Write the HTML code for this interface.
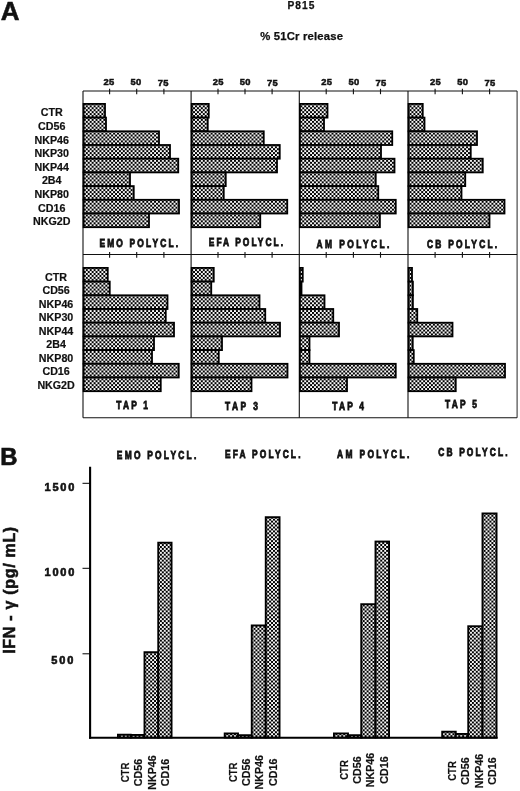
<!DOCTYPE html>
<html><head><meta charset="utf-8"><title>Figure</title>
<style>
html,body{margin:0;padding:0;background:#fff;}
svg{display:block;}
text{font-family:"Liberation Sans",sans-serif;font-weight:bold;fill:#111;}
.t{font-size:10.7px;stroke:#111;stroke-width:0.2px;}
.m{font-size:10.5px;}
</style></head><body>
<svg width="520" height="791" viewBox="0 0 520 791">
<defs><pattern id="ck" width="3.9" height="3.9" patternUnits="userSpaceOnUse"><rect width="3.9" height="3.9" fill="#fff"/><rect x="0" y="0" width="2.03" height="2.03" fill="#000"/><rect x="1.95" y="1.95" width="2.03" height="2.03" fill="#000"/></pattern></defs>
<rect width="520" height="791" fill="#fff"/>
<text transform="translate(0.8,19.6) scale(1.04,1)" font-size="25" stroke="#111" stroke-width="0.5">A</text>
<text x="287.5" y="8.8" font-size="10.2" stroke="#111" stroke-width="0.25" textLength="27" lengthAdjust="spacing">P815</text>
<text x="260.2" y="39.9" font-size="11.3" stroke="#111" stroke-width="0.25" textLength="82.8" lengthAdjust="spacing">% 51Cr release</text>
<line x1="83.0" y1="91.0" x2="83.0" y2="417.8" stroke="#111" stroke-width="1.1"/>
<line x1="191.1" y1="91.0" x2="191.1" y2="417.8" stroke="#111" stroke-width="1.1"/>
<line x1="299.3" y1="91.0" x2="299.3" y2="417.8" stroke="#111" stroke-width="1.1"/>
<line x1="408.0" y1="91.0" x2="408.0" y2="417.8" stroke="#111" stroke-width="1.1"/>
<line x1="517.1" y1="91.0" x2="517.1" y2="417.8" stroke="#3a3a3a" stroke-width="1.1"/>
<line x1="83.0" y1="91.0" x2="517.1" y2="91.0" stroke="#111" stroke-width="1.1"/>
<line x1="83.0" y1="254.5" x2="517.1" y2="254.5" stroke="#111" stroke-width="1.1"/>
<line x1="83.0" y1="417.8" x2="517.1" y2="417.8" stroke="#111" stroke-width="1.1"/>
<line x1="109.60" y1="88.8" x2="109.60" y2="94.2" stroke="#111" stroke-width="1.1"/>
<line x1="109.60" y1="252.1" x2="109.60" y2="257.7" stroke="#111" stroke-width="1.1"/>
<text x="108.80" y="85.2" font-size="9.4" text-anchor="middle" textLength="10.7" lengthAdjust="spacing" stroke="#111" stroke-width="0.5">25</text>
<line x1="136.70" y1="88.8" x2="136.70" y2="94.2" stroke="#111" stroke-width="1.1"/>
<line x1="136.70" y1="252.1" x2="136.70" y2="257.7" stroke="#111" stroke-width="1.1"/>
<text x="135.90" y="85.2" font-size="9.4" text-anchor="middle" textLength="10.7" lengthAdjust="spacing" stroke="#111" stroke-width="0.5">50</text>
<line x1="163.90" y1="88.8" x2="163.90" y2="94.2" stroke="#111" stroke-width="1.1"/>
<line x1="163.90" y1="252.1" x2="163.90" y2="257.7" stroke="#111" stroke-width="1.1"/>
<text x="163.10" y="86.2" font-size="9.4" text-anchor="middle" textLength="10.7" lengthAdjust="spacing" stroke="#111" stroke-width="0.5">75</text>
<line x1="218.00" y1="88.8" x2="218.00" y2="94.2" stroke="#111" stroke-width="1.1"/>
<line x1="218.00" y1="252.1" x2="218.00" y2="257.7" stroke="#111" stroke-width="1.1"/>
<text x="218.20" y="85.2" font-size="9.4" text-anchor="middle" textLength="10.7" lengthAdjust="spacing" stroke="#111" stroke-width="0.5">25</text>
<line x1="245.00" y1="88.8" x2="245.00" y2="94.2" stroke="#111" stroke-width="1.1"/>
<line x1="245.00" y1="252.1" x2="245.00" y2="257.7" stroke="#111" stroke-width="1.1"/>
<text x="245.20" y="85.2" font-size="9.4" text-anchor="middle" textLength="10.7" lengthAdjust="spacing" stroke="#111" stroke-width="0.5">50</text>
<line x1="272.10" y1="88.8" x2="272.10" y2="94.2" stroke="#111" stroke-width="1.1"/>
<line x1="272.10" y1="252.1" x2="272.10" y2="257.7" stroke="#111" stroke-width="1.1"/>
<text x="272.30" y="86.2" font-size="9.4" text-anchor="middle" textLength="10.7" lengthAdjust="spacing" stroke="#111" stroke-width="0.5">75</text>
<line x1="326.20" y1="88.8" x2="326.20" y2="94.2" stroke="#111" stroke-width="1.1"/>
<line x1="326.20" y1="252.1" x2="326.20" y2="257.7" stroke="#111" stroke-width="1.1"/>
<text x="326.60" y="85.2" font-size="9.4" text-anchor="middle" textLength="10.7" lengthAdjust="spacing" stroke="#111" stroke-width="0.5">25</text>
<line x1="353.40" y1="88.8" x2="353.40" y2="94.2" stroke="#111" stroke-width="1.1"/>
<line x1="353.40" y1="252.1" x2="353.40" y2="257.7" stroke="#111" stroke-width="1.1"/>
<text x="353.80" y="85.2" font-size="9.4" text-anchor="middle" textLength="10.7" lengthAdjust="spacing" stroke="#111" stroke-width="0.5">50</text>
<line x1="380.50" y1="88.8" x2="380.50" y2="94.2" stroke="#111" stroke-width="1.1"/>
<line x1="380.50" y1="252.1" x2="380.50" y2="257.7" stroke="#111" stroke-width="1.1"/>
<text x="380.90" y="86.2" font-size="9.4" text-anchor="middle" textLength="10.7" lengthAdjust="spacing" stroke="#111" stroke-width="0.5">75</text>
<line x1="435.10" y1="88.8" x2="435.10" y2="94.2" stroke="#111" stroke-width="1.1"/>
<line x1="435.10" y1="252.1" x2="435.10" y2="257.7" stroke="#111" stroke-width="1.1"/>
<text x="435.40" y="85.2" font-size="9.4" text-anchor="middle" textLength="10.7" lengthAdjust="spacing" stroke="#111" stroke-width="0.5">25</text>
<line x1="462.40" y1="88.8" x2="462.40" y2="94.2" stroke="#111" stroke-width="1.1"/>
<line x1="462.40" y1="252.1" x2="462.40" y2="257.7" stroke="#111" stroke-width="1.1"/>
<text x="462.70" y="85.2" font-size="9.4" text-anchor="middle" textLength="10.7" lengthAdjust="spacing" stroke="#111" stroke-width="0.5">50</text>
<line x1="489.60" y1="88.8" x2="489.60" y2="94.2" stroke="#111" stroke-width="1.1"/>
<line x1="489.60" y1="252.1" x2="489.60" y2="257.7" stroke="#111" stroke-width="1.1"/>
<text x="489.90" y="86.2" font-size="9.4" text-anchor="middle" textLength="10.7" lengthAdjust="spacing" stroke="#111" stroke-width="0.5">75</text>
<rect x="83.60" y="103.90" width="21.40" height="13.70" fill="url(#ck)" stroke="#000" stroke-width="1.8"/>
<rect x="83.60" y="117.60" width="22.40" height="13.70" fill="url(#ck)" stroke="#000" stroke-width="1.8"/>
<rect x="83.60" y="131.30" width="75.40" height="13.70" fill="url(#ck)" stroke="#000" stroke-width="1.8"/>
<rect x="83.60" y="145.00" width="86.40" height="13.70" fill="url(#ck)" stroke="#000" stroke-width="1.8"/>
<rect x="83.60" y="158.70" width="94.65" height="13.70" fill="url(#ck)" stroke="#000" stroke-width="1.8"/>
<rect x="83.60" y="172.40" width="46.40" height="13.70" fill="url(#ck)" stroke="#000" stroke-width="1.8"/>
<rect x="83.60" y="186.10" width="50.15" height="13.70" fill="url(#ck)" stroke="#000" stroke-width="1.8"/>
<rect x="83.60" y="199.80" width="95.40" height="13.70" fill="url(#ck)" stroke="#000" stroke-width="1.8"/>
<rect x="83.60" y="213.50" width="65.40" height="13.70" fill="url(#ck)" stroke="#000" stroke-width="1.8"/>
<rect x="191.70" y="103.90" width="17.05" height="13.70" fill="url(#ck)" stroke="#000" stroke-width="1.8"/>
<rect x="191.70" y="117.60" width="16.05" height="13.70" fill="url(#ck)" stroke="#000" stroke-width="1.8"/>
<rect x="191.70" y="131.30" width="72.05" height="13.70" fill="url(#ck)" stroke="#000" stroke-width="1.8"/>
<rect x="191.70" y="145.00" width="88.05" height="13.70" fill="url(#ck)" stroke="#000" stroke-width="1.8"/>
<rect x="191.70" y="158.70" width="85.30" height="13.70" fill="url(#ck)" stroke="#000" stroke-width="1.8"/>
<rect x="191.70" y="172.40" width="34.05" height="13.70" fill="url(#ck)" stroke="#000" stroke-width="1.8"/>
<rect x="191.70" y="186.10" width="32.05" height="13.70" fill="url(#ck)" stroke="#000" stroke-width="1.8"/>
<rect x="191.70" y="199.80" width="95.55" height="13.70" fill="url(#ck)" stroke="#000" stroke-width="1.8"/>
<rect x="191.70" y="213.50" width="68.55" height="13.70" fill="url(#ck)" stroke="#000" stroke-width="1.8"/>
<rect x="299.90" y="103.90" width="27.60" height="13.70" fill="url(#ck)" stroke="#000" stroke-width="1.8"/>
<rect x="299.90" y="117.60" width="24.10" height="13.70" fill="url(#ck)" stroke="#000" stroke-width="1.8"/>
<rect x="299.90" y="131.30" width="92.35" height="13.70" fill="url(#ck)" stroke="#000" stroke-width="1.8"/>
<rect x="299.90" y="145.00" width="81.10" height="13.70" fill="url(#ck)" stroke="#000" stroke-width="1.8"/>
<rect x="299.90" y="158.70" width="94.60" height="13.70" fill="url(#ck)" stroke="#000" stroke-width="1.8"/>
<rect x="299.90" y="172.40" width="75.85" height="13.70" fill="url(#ck)" stroke="#000" stroke-width="1.8"/>
<rect x="299.90" y="186.10" width="78.35" height="13.70" fill="url(#ck)" stroke="#000" stroke-width="1.8"/>
<rect x="299.90" y="199.80" width="95.85" height="13.70" fill="url(#ck)" stroke="#000" stroke-width="1.8"/>
<rect x="299.90" y="213.50" width="80.00" height="13.70" fill="url(#ck)" stroke="#000" stroke-width="1.8"/>
<rect x="408.60" y="103.90" width="14.15" height="13.70" fill="url(#ck)" stroke="#000" stroke-width="1.8"/>
<rect x="408.60" y="117.60" width="15.90" height="13.70" fill="url(#ck)" stroke="#000" stroke-width="1.8"/>
<rect x="408.60" y="131.30" width="68.40" height="13.70" fill="url(#ck)" stroke="#000" stroke-width="1.8"/>
<rect x="408.60" y="145.00" width="62.15" height="13.70" fill="url(#ck)" stroke="#000" stroke-width="1.8"/>
<rect x="408.60" y="158.70" width="74.15" height="13.70" fill="url(#ck)" stroke="#000" stroke-width="1.8"/>
<rect x="408.60" y="172.40" width="56.65" height="13.70" fill="url(#ck)" stroke="#000" stroke-width="1.8"/>
<rect x="408.60" y="186.10" width="52.90" height="13.70" fill="url(#ck)" stroke="#000" stroke-width="1.8"/>
<rect x="408.60" y="199.80" width="95.90" height="13.70" fill="url(#ck)" stroke="#000" stroke-width="1.8"/>
<rect x="408.60" y="213.50" width="80.90" height="13.70" fill="url(#ck)" stroke="#000" stroke-width="1.8"/>
<rect x="83.60" y="267.90" width="24.15" height="13.70" fill="url(#ck)" stroke="#000" stroke-width="1.8"/>
<rect x="83.60" y="281.60" width="26.15" height="13.70" fill="url(#ck)" stroke="#000" stroke-width="1.8"/>
<rect x="83.60" y="295.30" width="83.90" height="13.70" fill="url(#ck)" stroke="#000" stroke-width="1.8"/>
<rect x="83.60" y="309.00" width="82.15" height="13.70" fill="url(#ck)" stroke="#000" stroke-width="1.8"/>
<rect x="83.60" y="322.70" width="90.40" height="13.70" fill="url(#ck)" stroke="#000" stroke-width="1.8"/>
<rect x="83.60" y="336.40" width="70.40" height="13.70" fill="url(#ck)" stroke="#000" stroke-width="1.8"/>
<rect x="83.60" y="350.10" width="68.40" height="13.70" fill="url(#ck)" stroke="#000" stroke-width="1.8"/>
<rect x="83.60" y="363.80" width="95.15" height="13.70" fill="url(#ck)" stroke="#000" stroke-width="1.8"/>
<rect x="83.60" y="377.50" width="77.15" height="13.70" fill="url(#ck)" stroke="#000" stroke-width="1.8"/>
<rect x="191.70" y="267.90" width="22.05" height="13.70" fill="url(#ck)" stroke="#000" stroke-width="1.8"/>
<rect x="191.70" y="281.60" width="19.55" height="13.70" fill="url(#ck)" stroke="#000" stroke-width="1.8"/>
<rect x="191.70" y="295.30" width="67.80" height="13.70" fill="url(#ck)" stroke="#000" stroke-width="1.8"/>
<rect x="191.70" y="309.00" width="73.55" height="13.70" fill="url(#ck)" stroke="#000" stroke-width="1.8"/>
<rect x="191.70" y="322.70" width="88.30" height="13.70" fill="url(#ck)" stroke="#000" stroke-width="1.8"/>
<rect x="191.70" y="336.40" width="30.30" height="13.70" fill="url(#ck)" stroke="#000" stroke-width="1.8"/>
<rect x="191.70" y="350.10" width="27.05" height="13.70" fill="url(#ck)" stroke="#000" stroke-width="1.8"/>
<rect x="191.70" y="363.80" width="95.80" height="13.70" fill="url(#ck)" stroke="#000" stroke-width="1.8"/>
<rect x="191.70" y="377.50" width="59.80" height="13.70" fill="url(#ck)" stroke="#000" stroke-width="1.8"/>
<rect x="299.90" y="267.90" width="2.85" height="13.70" fill="url(#ck)" stroke="#000" stroke-width="1.8"/>
<rect x="299.90" y="281.60" width="1.60" height="13.70" fill="url(#ck)" stroke="#000" stroke-width="1.8"/>
<rect x="299.90" y="295.30" width="24.60" height="13.70" fill="url(#ck)" stroke="#000" stroke-width="1.8"/>
<rect x="299.90" y="309.00" width="33.35" height="13.70" fill="url(#ck)" stroke="#000" stroke-width="1.8"/>
<rect x="299.90" y="322.70" width="39.10" height="13.70" fill="url(#ck)" stroke="#000" stroke-width="1.8"/>
<rect x="299.90" y="336.40" width="9.60" height="13.70" fill="url(#ck)" stroke="#000" stroke-width="1.8"/>
<rect x="299.90" y="350.10" width="9.60" height="13.70" fill="url(#ck)" stroke="#000" stroke-width="1.8"/>
<rect x="299.90" y="363.80" width="95.85" height="13.70" fill="url(#ck)" stroke="#000" stroke-width="1.8"/>
<rect x="299.90" y="377.50" width="47.10" height="13.70" fill="url(#ck)" stroke="#000" stroke-width="1.8"/>
<rect x="408.60" y="267.90" width="3.40" height="13.70" fill="url(#ck)" stroke="#000" stroke-width="1.8"/>
<rect x="408.60" y="281.60" width="4.30" height="13.70" fill="url(#ck)" stroke="#000" stroke-width="1.8"/>
<rect x="408.60" y="295.30" width="4.30" height="13.70" fill="url(#ck)" stroke="#000" stroke-width="1.8"/>
<rect x="408.60" y="309.00" width="8.65" height="13.70" fill="url(#ck)" stroke="#000" stroke-width="1.8"/>
<rect x="408.60" y="322.70" width="43.90" height="13.70" fill="url(#ck)" stroke="#000" stroke-width="1.8"/>
<rect x="408.60" y="336.40" width="4.15" height="13.70" fill="url(#ck)" stroke="#000" stroke-width="1.8"/>
<rect x="408.60" y="350.10" width="5.15" height="13.70" fill="url(#ck)" stroke="#000" stroke-width="1.8"/>
<rect x="408.60" y="363.80" width="96.40" height="13.70" fill="url(#ck)" stroke="#000" stroke-width="1.8"/>
<rect x="408.60" y="377.50" width="47.15" height="13.70" fill="url(#ck)" stroke="#000" stroke-width="1.8"/>
<text class="t" x="51.7" y="116.40" text-anchor="middle">CTR</text>
<text class="t" x="56.1" y="280.60" text-anchor="middle">CTR</text>
<text class="t" x="51.7" y="129.99" text-anchor="middle">CD56</text>
<text class="t" x="56.1" y="294.15" text-anchor="middle">CD56</text>
<text class="t" x="51.7" y="143.58" text-anchor="middle">NKP46</text>
<text class="t" x="56.1" y="307.70" text-anchor="middle">NKP46</text>
<text class="t" x="51.7" y="157.17" text-anchor="middle">NKP30</text>
<text class="t" x="56.1" y="321.25" text-anchor="middle">NKP30</text>
<text class="t" x="51.7" y="170.76" text-anchor="middle">NKP44</text>
<text class="t" x="56.1" y="334.80" text-anchor="middle">NKP44</text>
<text class="t" x="51.7" y="184.35" text-anchor="middle">2B4</text>
<text class="t" x="56.1" y="348.35" text-anchor="middle">2B4</text>
<text class="t" x="51.7" y="197.94" text-anchor="middle">NKP80</text>
<text class="t" x="56.1" y="361.90" text-anchor="middle">NKP80</text>
<text class="t" x="51.7" y="211.53" text-anchor="middle">CD16</text>
<text class="t" x="56.1" y="375.45" text-anchor="middle">CD16</text>
<text class="t" x="51.7" y="225.12" text-anchor="middle">NKG2D</text>
<text class="t" x="56.1" y="389.00" text-anchor="middle">NKG2D</text>
<text class="m" stroke="#111" stroke-width="0.8" transform="translate(99.5,247.2) scale(0.8,1)" textLength="98.12" lengthAdjust="spacing">EMO POLYCL.</text>
<text class="m" stroke="#111" stroke-width="0.8" transform="translate(208.8,245.8) scale(0.8,1)" textLength="92.75" lengthAdjust="spacing">EFA POLYCL.</text>
<text class="m" stroke="#111" stroke-width="0.8" transform="translate(316.6,247.5) scale(0.8,1)" textLength="91.00" lengthAdjust="spacing">AM POLYCL.</text>
<text class="m" stroke="#111" stroke-width="0.8" transform="translate(427,247.5) scale(0.8,1)" textLength="87.75" lengthAdjust="spacing">CB POLYCL.</text>
<text class="m" stroke="#111" stroke-width="0.8" transform="translate(116.3,408.8) scale(0.8,1)" textLength="39.62" lengthAdjust="spacing">TAP 1</text>
<text class="m" stroke="#111" stroke-width="0.8" transform="translate(225,410) scale(0.8,1)" textLength="41.25" lengthAdjust="spacing">TAP 3</text>
<text class="m" stroke="#111" stroke-width="0.8" transform="translate(332.3,410) scale(0.8,1)" textLength="39.62" lengthAdjust="spacing">TAP 4</text>
<text class="m" stroke="#111" stroke-width="0.8" transform="translate(445,408.4) scale(0.8,1)" textLength="40.00" lengthAdjust="spacing">TAP 5</text>
<text x="0.2" y="465.2" font-size="23.8" stroke="#111" stroke-width="0.7">B</text>
<text class="m" stroke="#111" stroke-width="0.8" transform="translate(116.8,459.2) scale(0.8,1)" textLength="99.38" lengthAdjust="spacing">EMO POLYCL.</text>
<text class="m" stroke="#111" stroke-width="0.8" transform="translate(225,458.3) scale(0.8,1)" textLength="94.38" lengthAdjust="spacing">EFA POLYCL.</text>
<text class="m" stroke="#111" stroke-width="0.8" transform="translate(337,457.5) scale(0.8,1)" textLength="90.38" lengthAdjust="spacing">AM POLYCL.</text>
<text class="m" stroke="#111" stroke-width="0.8" transform="translate(438.3,455.8) scale(0.8,1)" textLength="86.50" lengthAdjust="spacing">CB POLYCL.</text>
<text transform="translate(14.6,653.8) rotate(-90)" font-size="16" stroke="#111" stroke-width="0.55" textLength="127" lengthAdjust="spacing">IFN - γ (pg/ mL)</text>
<line x1="90.1" y1="466.8" x2="90.1" y2="738.8" stroke="#000" stroke-width="2.1"/>
<line x1="89.05" y1="737.75" x2="497.6" y2="737.75" stroke="#000" stroke-width="2.2"/>
<line x1="82.5" y1="483.3" x2="90" y2="483.3" stroke="#000" stroke-width="1.0"/>
<text x="44.5" y="491.3" font-size="11" stroke="#111" stroke-width="0.6" textLength="29.8" lengthAdjust="spacing">1500</text>
<line x1="82.5" y1="568.3" x2="90" y2="568.3" stroke="#000" stroke-width="1.0"/>
<text x="44.5" y="575.8" font-size="11" stroke="#111" stroke-width="0.6" textLength="29.8" lengthAdjust="spacing">1000</text>
<line x1="82.5" y1="653.8" x2="90" y2="653.8" stroke="#000" stroke-width="1.0"/>
<text x="51.3" y="663.8" font-size="11" stroke="#111" stroke-width="0.6" textLength="22.0" lengthAdjust="spacing">500</text>
<rect x="117.95" y="734.70" width="12.80" height="2.80" fill="url(#ck)" stroke="#000" stroke-width="1.9"/>
<rect x="130.75" y="734.95" width="13.75" height="2.55" fill="url(#ck)" stroke="#000" stroke-width="1.9"/>
<rect x="144.50" y="652.20" width="13.75" height="85.30" fill="url(#ck)" stroke="#000" stroke-width="1.9"/>
<rect x="158.25" y="542.70" width="13.30" height="194.80" fill="url(#ck)" stroke="#000" stroke-width="1.9"/>
<rect x="224.70" y="733.45" width="13.30" height="4.05" fill="url(#ck)" stroke="#000" stroke-width="1.9"/>
<rect x="238.00" y="735.20" width="13.75" height="2.30" fill="url(#ck)" stroke="#000" stroke-width="1.9"/>
<rect x="251.75" y="625.45" width="14.00" height="112.05" fill="url(#ck)" stroke="#000" stroke-width="1.9"/>
<rect x="265.75" y="517.20" width="13.80" height="220.30" fill="url(#ck)" stroke="#000" stroke-width="1.9"/>
<rect x="333.95" y="733.45" width="14.05" height="4.05" fill="url(#ck)" stroke="#000" stroke-width="1.9"/>
<rect x="348.00" y="735.20" width="13.25" height="2.30" fill="url(#ck)" stroke="#000" stroke-width="1.9"/>
<rect x="361.25" y="604.20" width="14.25" height="133.30" fill="url(#ck)" stroke="#000" stroke-width="1.9"/>
<rect x="375.50" y="541.55" width="13.55" height="195.95" fill="url(#ck)" stroke="#000" stroke-width="1.9"/>
<rect x="442.20" y="731.70" width="13.55" height="5.80" fill="url(#ck)" stroke="#000" stroke-width="1.9"/>
<rect x="455.75" y="733.95" width="12.50" height="3.55" fill="url(#ck)" stroke="#000" stroke-width="1.9"/>
<rect x="468.25" y="626.25" width="14.25" height="111.25" fill="url(#ck)" stroke="#000" stroke-width="1.9"/>
<rect x="482.50" y="513.45" width="14.05" height="224.05" fill="url(#ck)" stroke="#000" stroke-width="1.9"/>
<text class="t" transform="translate(128.50,772.5) rotate(-90)" text-anchor="middle" textLength="19.6" lengthAdjust="spacingAndGlyphs">CTR</text>
<text class="t" transform="translate(142.30,772.5) rotate(-90)" text-anchor="middle">CD56</text>
<text class="t" transform="translate(155.70,772.5) rotate(-90)" text-anchor="middle">NKP46</text>
<text class="t" transform="translate(169.30,772.5) rotate(-90)" text-anchor="middle">CD16</text>
<text class="t" transform="translate(236.60,772.3) rotate(-90)" text-anchor="middle" textLength="19.6" lengthAdjust="spacingAndGlyphs">CTR</text>
<text class="t" transform="translate(250.00,772.3) rotate(-90)" text-anchor="middle">CD56</text>
<text class="t" transform="translate(263.00,772.3) rotate(-90)" text-anchor="middle">NKP46</text>
<text class="t" transform="translate(277.00,772.3) rotate(-90)" text-anchor="middle">CD16</text>
<text class="t" transform="translate(347.50,770) rotate(-90)" text-anchor="middle" textLength="19.6" lengthAdjust="spacingAndGlyphs">CTR</text>
<text class="t" transform="translate(360.90,770) rotate(-90)" text-anchor="middle">CD56</text>
<text class="t" transform="translate(374.00,770) rotate(-90)" text-anchor="middle">NKP46</text>
<text class="t" transform="translate(387.50,770) rotate(-90)" text-anchor="middle">CD16</text>
<text class="t" transform="translate(455.70,771) rotate(-90)" text-anchor="middle" textLength="19.6" lengthAdjust="spacingAndGlyphs">CTR</text>
<text class="t" transform="translate(469.20,771) rotate(-90)" text-anchor="middle">CD56</text>
<text class="t" transform="translate(482.70,771) rotate(-90)" text-anchor="middle">NKP46</text>
<text class="t" transform="translate(496.20,771) rotate(-90)" text-anchor="middle">CD16</text>
</svg>
</body></html>
